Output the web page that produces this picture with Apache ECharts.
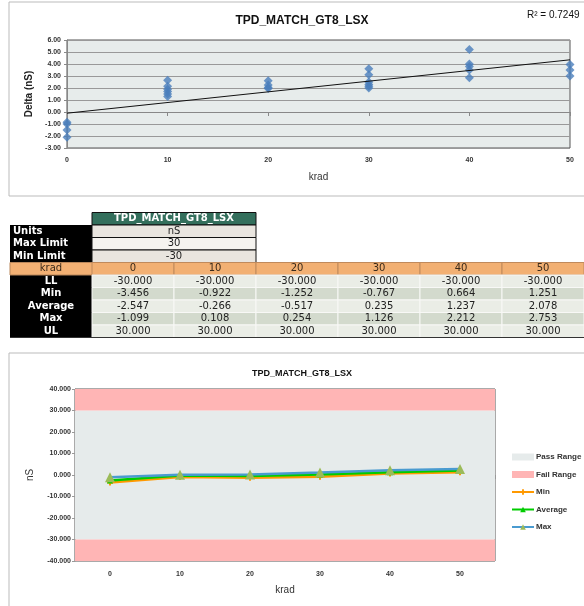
<!DOCTYPE html>
<html>
<head>
<meta charset="utf-8">
<script src="https://cdn.jsdelivr.net/npm/echarts@6/dist/echarts.min.js"></script>
<style>
  html, body { margin: 0; padding: 0; background: #fff; }
  #main { width: 584px; height: 606px; }
</style>
</head>
<body>
<div id="main"></div>
<script>
// 标题
const chartTitle = 'TPD_MATCH_GT8_LSX';
const rSquared = 'R² = 0.7249';

// 上图 散点 (krad -> Delta nS)
const kradValues = [0, 10, 20, 30, 40, 50];
const deltaAt0 = [-0.85, -1.0, -1.5, -2.1];
const deltaAt10 = [2.65, 2.15, 1.9, 1.7, 1.5, 1.3];
const deltaAt20 = [2.6, 2.25, 2.05, 1.95];
const deltaAt30 = [3.6, 3.1, 2.5, 2.3, 2.15, 2.0];
const deltaAt40 = [5.2, 4.0, 3.8, 3.5, 2.85];
const deltaAt50 = [3.95, 3.5, 3.0];
// 趋势线 两端
const trendX = [0, 50];
const trendY = [-0.1, 4.35];

// 表格数据
const units = 'nS';
const maxLimit = '30';
const minLimit = '-30';
const kradLabels = ['0', '10', '20', '30', '40', '50'];
const llRow = [-30, -30, -30, -30, -30, -30];
const minRow = [-3.456, -0.922, -1.252, -0.767, 0.664, 1.251];
const avgRow = [-2.547, -0.266, -0.517, 0.235, 1.237, 2.078];
const maxRow = [-1.099, 0.108, 0.254, 1.126, 2.212, 2.753];
const ulRow = [30, 30, 30, 30, 30, 30];

const chart = echarts.init(document.getElementById('main'), null, { renderer: 'canvas' });

// 散点数据
let deltaGroups = [deltaAt0, deltaAt10, deltaAt20, deltaAt30, deltaAt40, deltaAt50];
let scatterData = [];
for (let i = 0; i < kradValues.length; i++) {
  deltaGroups[i].forEach(v => scatterData.push([kradValues[i], v]));
}
let trendData = [[trendX[0], trendY[0]], [trendX[1], trendY[1]]];

// 表格 graphic
const tblFont = 'DejaVu Sans';
const tLeft = 10, labelW = 82, colW = 82, rowH = 12.5, tTop = 212.5;
let table = [];
function cell(x, y, w, h, fill, stroke) {
  table.push({ type: 'rect', shape: { x: x, y: y, width: w, height: h },
    style: { fill: fill, stroke: stroke || null, lineWidth: 1 }, silent: true });
}
function txt(x, y, s, color, bold, align) {
  table.push({ type: 'text', x: x, y: y, silent: true,
    style: { text: s, fill: color, font: (bold ? 'bold ' : '') + '10px "' + tblFont + '"',
      textAlign: align || 'center', textVerticalAlign: 'middle' } });
}
const c0 = tLeft + labelW;
// 表头
cell(c0, tTop, colW * 2, rowH, '#336f5c', '#111');
txt(c0 + colW, tTop + rowH / 2, chartTitle, '#fff', true);
// 左侧黑色列
cell(tLeft, tTop + rowH, labelW, rowH * 9, '#000');
let infoRows = [['Units', units, '#e9e5df'], ['Max Limit', maxLimit, '#f5f3ef'], ['Min Limit', minLimit, '#e9e5df']];
infoRows.forEach((r, i) => {
  let y = tTop + rowH * (i + 1);
  cell(c0, y, colW * 2, rowH, r[2], '#111');
  txt(tLeft + 3, y + rowH / 2, r[0], '#fff', true, 'left');
  txt(c0 + colW, y + rowH / 2, r[1], '#222', false);
});
// krad 行
let ky = tTop + rowH * 4;
cell(tLeft, ky, 574, rowH, '#f2b073', '#b8865a');
txt(tLeft + labelW / 2, ky + rowH / 2, 'krad', '#3a2a1a', false);
kradLabels.forEach((k, i) => {
  cell(c0 + colW * i, ky, colW, rowH, '#f2b073', '#c08a5c');
  txt(c0 + colW * i + colW / 2, ky + rowH / 2, k, '#3a2a1a', false);
});
let dataRows = [['LL', llRow, '#eaede6'], ['Min', minRow, '#d3dacd'], ['Average', avgRow, '#eaede6'], ['Max', maxRow, '#d3dacd'], ['UL', ulRow, '#eaede6']];
dataRows.forEach((r, i) => {
  let y = tTop + rowH * (5 + i);
  txt(tLeft + labelW / 2, y + rowH / 2, r[0], '#fff', true);
  r[1].forEach((v, j) => {
    cell(c0 + colW * j, y, colW, rowH, r[2], '#f8f8f6');
    txt(c0 + colW * j + colW / 2, y + rowH / 2, v.toFixed(3), '#222', false);
  });
});
table.push({ type: 'line', shape: { x1: tLeft, y1: tTop + rowH * 10, x2: 584, y2: tTop + rowH * 10 }, style: { stroke: '#333', lineWidth: 1 }, silent: true });

const axisFont = { fontFamily: 'Liberation Sans', fontWeight: 'bold', color: '#333' };

let option = {
  animation: false,
  backgroundColor: '#fff',
  title: [
    { text: chartTitle, left: 297, top: 10, textAlign: 'center',
      textStyle: { fontFamily: 'Liberation Sans', fontWeight: 'bold', fontSize: 12, color: '#111' } },
    { text: rSquared, left: 522, top: 5,
      textStyle: { fontFamily: 'Liberation Sans', fontWeight: 'normal', fontSize: 10, color: '#111' } },
    { text: chartTitle, left: 297, top: 364, textAlign: 'center',
      textStyle: { fontFamily: 'Liberation Sans', fontWeight: 'bold', fontSize: 9, color: '#111' } }
  ],
  legend: {
    orient: 'vertical', left: 511, top: 453, padding: 0,
    itemWidth: 22, itemHeight: 7, itemGap: 9.5,
    data: [
      { name: 'Pass Range', icon: 'rect', itemStyle: { color: '#e6ebeb' } },
      { name: 'Fail Range', icon: 'rect', itemStyle: { color: '#ffb5b5' } },
      { name: 'Min' }, { name: 'Average' }, { name: 'Max' }
    ],
    textStyle: { fontFamily: 'Liberation Sans', fontSize: 8, fontWeight: 'bold', color: '#333', padding: [0, 0, 0, -3] }
  },
  grid: [
    { left: 67, right: 14, top: 40, bottom: 458, show: true, backgroundColor: '#e7eceb', borderColor: '#555', borderWidth: 1 },
    { left: 75, right: 89, top: 389, bottom: 45, show: true, backgroundColor: 'transparent', borderColor: '#555', borderWidth: 1 }
  ],
  xAxis: [
    { gridIndex: 0, type: 'value', min: 0, max: 50, interval: 10,
      name: 'krad', nameLocation: 'middle', nameGap: 24,
      nameTextStyle: { fontFamily: 'Liberation Sans', fontSize: 10, color: '#333' },
      axisLine: { lineStyle: { color: '#888' } },
      axisTick: { show: true, length: 4, lineStyle: { color: '#888' } },
      axisLabel: Object.assign({ fontSize: 7, margin: 9 }, axisFont),
      splitLine: { show: false } },
    { gridIndex: 1, type: 'category', data: kradLabels, boundaryGap: true,
      name: 'krad', nameLocation: 'middle', nameGap: 24,
      nameTextStyle: { fontFamily: 'Liberation Sans', fontSize: 10, color: '#333' },
      axisLine: { lineStyle: { color: '#999' } },
      axisTick: { show: true, length: 4, lineStyle: { color: '#999' } },
      axisLabel: Object.assign({ fontSize: 7, margin: 10 }, axisFont) }
  ],
  yAxis: [
    { gridIndex: 0, type: 'value', min: -3, max: 6, interval: 1,
      name: 'Delta (nS)', nameLocation: 'middle', nameGap: 30,
      nameTextStyle: { fontFamily: 'Liberation Sans', fontSize: 10, fontWeight: 'bold', color: '#222' },
      axisLine: { show: true, lineStyle: { color: '#888' } },
      axisTick: { show: true, length: 3, lineStyle: { color: '#888' } },
      axisLabel: Object.assign({ fontSize: 7, margin: 6, formatter: v => v.toFixed(2) }, axisFont),
      splitLine: { show: true, lineStyle: { color: '#999', width: 1 } } },
    { gridIndex: 1, type: 'value', min: -40, max: 40, interval: 10,
      name: units, nameLocation: 'middle', nameGap: 40,
      nameTextStyle: { fontFamily: 'Liberation Sans', fontSize: 10, color: '#333' },
      axisLine: { show: true, lineStyle: { color: '#999' } },
      axisTick: { show: true, length: 3, lineStyle: { color: '#999' } },
      axisLabel: Object.assign({ fontSize: 7, margin: 4, formatter: v => v.toFixed(3) }, axisFont),
      splitLine: { show: false } }
  ],
  series: [
    { name: 'delta', type: 'scatter', xAxisIndex: 0, yAxisIndex: 0, data: scatterData,
      symbol: 'diamond', symbolSize: 9, itemStyle: { color: '#4a7ebb' }, z: 3 },
    { name: 'trend', type: 'line', xAxisIndex: 0, yAxisIndex: 0, data: trendData,
      showSymbol: false, lineStyle: { color: '#111', width: 1 }, z: 4 },
    { name: 'Pass Range', type: 'line', xAxisIndex: 1, yAxisIndex: 1, data: [],
      itemStyle: { color: '#e6ebeb' }, z: 1,
      markArea: { silent: true, itemStyle: { color: '#e6ebeb' },
        data: [[{ yAxis: llRow[0] }, { yAxis: ulRow[0] }]] } },
    { name: 'Fail Range', type: 'line', xAxisIndex: 1, yAxisIndex: 1, data: [],
      itemStyle: { color: '#ffb5b5' }, z: 1,
      markArea: { silent: true, itemStyle: { color: '#ffb5b5' },
        data: [[{ yAxis: ulRow[0] }, { yAxis: 40 }], [{ yAxis: -40 }, { yAxis: llRow[0] }]] } },
    { name: 'Min', type: 'line', xAxisIndex: 1, yAxisIndex: 1, data: minRow,
      symbol: 'path://M2,0H4V2H6V4H4V6H2V4H0V2H2Z', symbolSize: 6,
      lineStyle: { color: '#ff9900', width: 2.5 }, itemStyle: { color: '#ff9900' }, z: 5 },
    { name: 'Average', type: 'line', xAxisIndex: 1, yAxisIndex: 1, data: avgRow,
      symbol: 'triangle', symbolSize: 6,
      lineStyle: { color: '#00cc00', width: 2.5 }, itemStyle: { color: '#00cc00' }, z: 6 },
    { name: 'Max', type: 'line', xAxisIndex: 1, yAxisIndex: 1, data: maxRow,
      symbol: 'triangle', symbolSize: 10,
      lineStyle: { color: '#4a9bd0', width: 2.5 }, itemStyle: { color: '#9bbb59' }, z: 7 }
  ],
  graphic: [
    { type: 'rect', shape: { x: 9, y: 2, width: 600, height: 194 }, style: { fill: null, stroke: '#bbb', lineWidth: 1 }, silent: true, z: -1 },
    { type: 'rect', shape: { x: 9, y: 353, width: 600, height: 300 }, style: { fill: null, stroke: '#bbb', lineWidth: 1 }, silent: true, z: -1 }
  ].concat(table)
};
chart.setOption(option);
</script>
</body>
</html>
